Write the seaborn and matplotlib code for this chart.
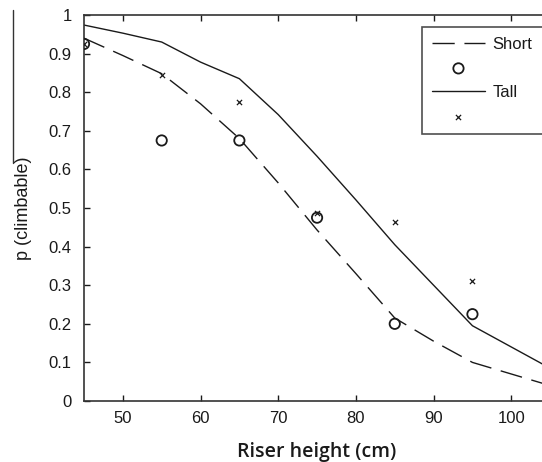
import matplotlib
matplotlib.use("Agg")
import matplotlib.pyplot as plt
import seaborn as sns
import pandas as pd
from matplotlib.lines import Line2D

# --- data ---
curve_x = [45, 50, 55, 60, 65, 70, 75, 80, 85, 90, 95, 100, 105]
short_curve = [0.94, 0.895, 0.848, 0.77, 0.68, 0.565, 0.443, 0.33, 0.215, 0.155, 0.10, 0.07, 0.04]
tall_curve = [0.974, 0.953, 0.930, 0.878, 0.835, 0.742, 0.634, 0.521, 0.405, 0.300, 0.195, 0.140, 0.085]

obs_x = [45, 55, 65, 75, 85, 95]
short_obs = [0.925, 0.675, 0.675, 0.475, 0.20, 0.225]
tall_obs = [0.925, 0.845, 0.775, 0.487, 0.465, 0.31]

xticks = [50, 60, 70, 80, 90, 100]
yticks = [0, 0.1, 0.2, 0.3, 0.4, 0.5, 0.6, 0.7, 0.8, 0.9, 1]
ytick_labels = ["0", "0.1", "0.2", "0.3", "0.4", "0.5", "0.6", "0.7", "0.8", "0.9", "1"]

curves = pd.DataFrame({"x": curve_x, "Short": short_curve, "Tall": tall_curve})
obs = pd.DataFrame({"x": obs_x, "Short": short_obs, "Tall": tall_obs})

sns.set_style("ticks")
plt.rcParams["font.family"] = ["Liberation Sans", "DejaVu Sans"]

ink = "#1a1a1a"
fig = plt.figure(figsize=(5.42, 4.62), dpi=100)
ax = fig.add_axes([0.155, 0.132, 0.86, 0.8355])

sns.lineplot(data=curves, x="x", y="Short", ax=ax, color=ink, lw=1.0,
             linestyle=(0, (16, 7)), label="Short")
sns.scatterplot(data=obs, x="x", y="Short", ax=ax, marker="o", s=55,
                facecolor="none", edgecolor=ink, linewidth=1.3, label=" ", zorder=3)
sns.lineplot(data=curves, x="x", y="Tall", ax=ax, color=ink, lw=1.0, label="Tall")
sns.scatterplot(data=obs, x="x", y="Tall", ax=ax, marker="x", s=14,
                color=ink, linewidth=0.9, label="  ", zorder=3)

ax.set_xlim(45, 105)
ax.set_ylim(0, 1)
ax.set_xticks(xticks)
ax.set_yticks(yticks)
ax.set_yticklabels(ytick_labels)
ax.tick_params(direction="in", length=4, width=1, colors=ink, labelsize=12,
               top=True, right=True, pad=7)
ax.tick_params(axis="y", pad=9)
for sp in ax.spines.values():
    sp.set_color("#333333")
    sp.set_linewidth(1.2)

ax.set_xlabel("Riser height (cm)", fontsize=14, family=["Open Sans", "DejaVu Sans"],
              fontweight="semibold", color=ink, labelpad=12)
ax.set_ylabel("p (climbable)", fontsize=13, color=ink, labelpad=12)

leg = ax.legend(loc="upper left", bbox_to_anchor=(0.7247, 0.970), borderaxespad=0,
                frameon=True, fancybox=False, fontsize=12, handlelength=3.2,
                labelspacing=0.55, borderpad=0.6, handletextpad=0.45)
leg.get_frame().set_edgecolor("#222222")
leg.get_frame().set_linewidth(1.2)
for t in leg.get_texts():
    t.set_color(ink)

# stray vertical line at top-left of the original figure
fig.add_artist(Line2D([13 / 542, 13 / 542], [1 - 10 / 462, 1 - 163 / 462],
                      color="#333333", lw=1.0))

fig.savefig("out.png", dpi=100)
